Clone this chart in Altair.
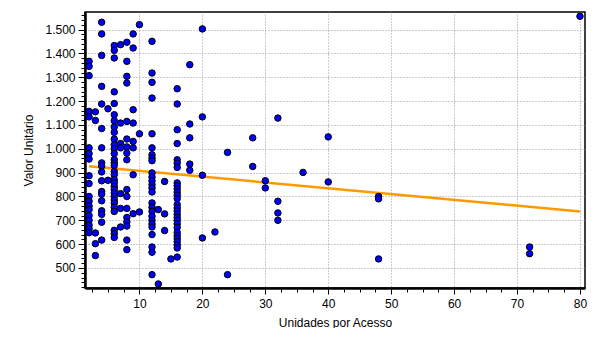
import altair as alt
import pandas as pd

# Unidades por Acesso (x) columns and Valor Unitário values
col_x = [2, 3, 4, 5, 6, 7, 8, 9, 10, 12, 13, 14, 15, 16, 18, 20, 22, 24, 28, 30, 32, 36, 40, 48, 72, 80]
col_v = [
    [1367, 1346, 1307, 1157, 1134, 1004, 980, 957, 887, 854, 800, 780, 760, 745, 720, 700, 680, 665, 648],
    [1155, 1119, 647, 602, 552],
    [1531, 1482, 1392, 1262, 1188, 1085, 1004, 941, 928, 903, 866, 821, 810, 782, 740, 725, 692, 617],
    [1168, 868],
    [1433, 1413, 1381, 1239, 1190, 1143, 1118, 1092, 1069, 1041, 1017, 1001, 980, 955, 941, 930, 905,
     891, 870, 857, 842, 829, 815, 800, 785, 773, 755, 737, 658, 644, 628],
    [1437, 1108, 1022, 1004, 812, 750, 672],
    [1447, 1367, 1304, 1276, 1115, 1041, 1008, 982, 954, 829, 800, 750, 712, 693, 676, 617, 577],
    [1482, 1423, 1164, 1108, 1031, 1004, 891, 728],
    [1521, 1063, 735],
    [1451, 1318, 1279, 1213, 1063, 1004, 975, 961, 950, 899, 882, 866, 850, 836, 819, 773, 755, 738,
     717, 700, 685, 672, 640, 588, 566, 472],
    [745, 433],
    [863, 727, 657],
    [538],
    [1252, 1188, 1080, 1022, 954, 940, 922, 857, 845, 832, 818, 805, 791, 766, 752, 740, 725, 712,
     700, 685, 670, 649, 635, 623, 610, 596, 584, 546],
    [1353, 1104, 1046, 936, 910],
    [1503, 1134, 889, 626],
    [651],
    [985, 472],
    [1046, 926],
    [866, 836],
    [1129, 780, 731, 700],
    [901],
    [1050, 861],
    [800, 790, 538],
    [588, 560],
    [1556],
]

# Fitted trend line (ends)
trend_x = [2, 80]
trend_v = [927, 737]

x_ticks = [2.5 * i for i in range(1, 33)]
y_ticks = list(range(420, 1580, 20))

unidades = []
valores = []
for cx, vs in zip(col_x, col_v):
    unidades += [cx] * len(vs)
    valores += vs

df = pd.DataFrame({"u": unidades, "v": valores})
df_trend = pd.DataFrame({"u": trend_x, "v": trend_v})

grid_major_x = {"condition": {"test": "datum.value % 10 === 0", "value": 1}, "value": 0}
tick_x = {"condition": {"test": "datum.value % 10 === 0", "value": 6}, "value": 4}
grid_major_y = {"condition": {"test": "datum.value % 100 === 0", "value": 1}, "value": 0}
tick_y = {"condition": {"test": "datum.value % 100 === 0", "value": 7}, "value": 4}

x_enc = alt.X(
    "u:Q",
    scale=alt.Scale(domain=[1.35, 80.8], nice=False, zero=False),
    axis=alt.Axis(
        title="Unidades por Acesso",
        values=x_ticks,
        labelExpr="datum.value % 10 === 0 ? datum.label : ''",
        labelOverlap=False,
        gridOpacity=grid_major_x,
        tickSize=tick_x,
        labelPadding=4,
        titlePadding=8,
    ),
)
y_enc = alt.Y(
    "v:Q",
    scale=alt.Scale(domain=[416, 1574], nice=False, zero=False),
    axis=alt.Axis(
        title="Valor Unitário",
        values=y_ticks,
        labelExpr="datum.value % 100 === 0 ? replace(format(datum.value, ','), ',', '.') : ''",
        labelOverlap=False,
        gridOpacity=grid_major_y,
        tickSize=tick_y,
        labelPadding=3,
        titlePadding=9,
    ),
)

line = alt.Chart(df_trend).mark_line(color="#FF9900", strokeWidth=2.5).encode(x=x_enc, y=y_enc)
points = alt.Chart(df).mark_point(
    filled=True, fill="#0000FF", stroke="black", strokeWidth=1, size=42, opacity=1
).encode(x=x_enc, y=y_enc)

chart = (
    alt.layer(line, points)
    .properties(
        width=500,
        height=276,
        autosize=alt.AutoSizeParams(type="none"),
        padding={"left": 77, "top": 4, "right": 3, "bottom": 40},
        background="white",
    )
    .configure_view(stroke="black", strokeWidth=1.5)
    .configure_axis(
        domainColor="black",
        domainWidth=2.5,
        tickColor="black",
        tickWidth=1,
        labelFont="Liberation Sans",
        labelFontSize=12,
        labelColor="black",
        titleFont="Liberation Sans",
        titleFontSize=12,
        titleFontWeight="normal",
        titleColor="black",
        gridColor="#999999",
        gridDash=[1, 2],
        gridWidth=1,
    )
)

chart.save("out.html", embed_options={"renderer": "svg", "actions": False})
